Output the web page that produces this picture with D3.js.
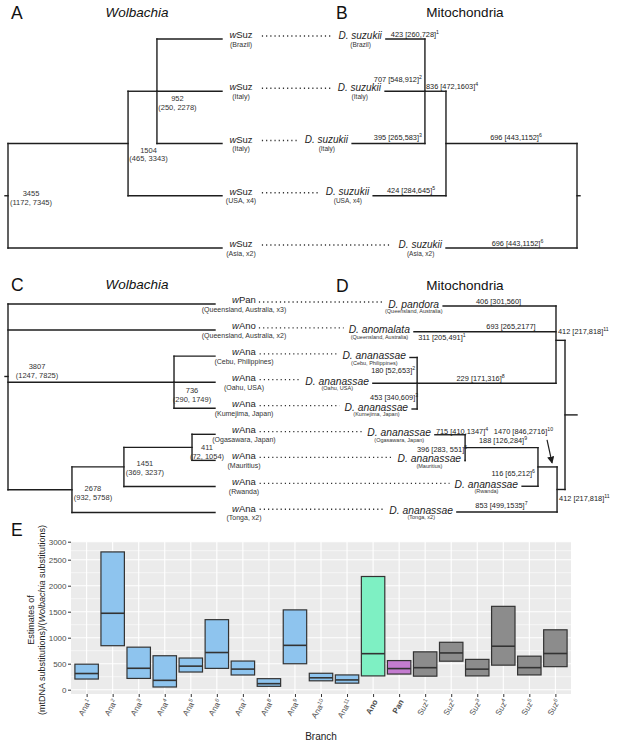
<!DOCTYPE html>
<html><head><meta charset="utf-8">
<script src="https://cdn.jsdelivr.net/npm/d3@7"></script>
<style>
body{margin:0;background:#fff;}
svg{display:block;font-family:"Liberation Sans",Arial,Helvetica,sans-serif;}
</style></head><body>
<svg id="fig" width="619" height="745"></svg>
<script>
// ======================= DATA =======================
// Panels A/B : D. suzukii
const suzWolNames = ["Suz","Suz","Suz","Suz","Suz"];
const suzLocations = ["(Brazil)","(Italy)","(Italy)","(USA, x4)","(Asia, x2)"];
const suzMitoNames = ["D. suzukii","D. suzukii","D. suzukii","D. suzukii","D. suzukii"];

// Wolbachia tree A (depth = relative node depth, 0 root .. 100 tips)
const treeA = {id:"rA", depth:0, est:"3455", ci:"(1172, 7345)", children:[
  {id:"a1504", depth:56.1, est:"1504", ci:"(465, 3343)", children:[
    {id:"a952", depth:69.6, est:"952", ci:"(250, 2278)", children:[
      {id:"a0", leaf:0, depth:100},{id:"a1", leaf:1, depth:100},{id:"a2", leaf:2, depth:100}]},
    {id:"a3", leaf:3, depth:100}]},
  {id:"a4", leaf:4, depth:100}]};

// Mitochondrial tree B (depth measured from root)
const treeB = {id:"rB", depth:0, children:[
  {id:"b446", depth:47.3, est:"696 [443,1152]", sup:"6", children:[
    {id:"b425", depth:54.9, est:"836 [472,1603]", sup:"4", children:[
      {id:"b0", leaf:0, depth:69.0, est:"423 [260,728]", sup:"1"},
      {id:"b1", leaf:1, depth:69.3, est:"707 [548,912]", sup:"2"},
      {id:"b2", leaf:2, depth:81.2, est:"395 [265,583]", sup:"3"}]},
    {id:"b3", leaf:3, depth:73.6, est:"424 [284,645]", sup:"5"}]},
  {id:"b4", leaf:4, depth:47.3, est:"696 [443,1152]", sup:"6"}]};

// Panels C/D : D. ananassae group
const anaWolNames = ["Pan","Ano","Ana","Ana","Ana","Ana","Ana","Ana","Ana"];
const anaWolLocations = ["(Queensland, Australia, x3)","(Queensland, Australia, x2)","(Cebu, Philippines)","(Oahu, USA)","(Kumejima, Japan)","(Ogasawara, Japan)","(Mauritius)","(Rwanda)","(Tonga, x2)"];
const anaMitoNames = ["D. pandora","D. anomalata","D. ananassae","D. ananassae","D. ananassae","D. ananassae","D. ananassae","D. ananassae","D. ananassae"];
const anaMitoLocations = ["(Queensland, Australia)","(Queensland, Australia)","(Cebu, Philippines)","(Oahu, USA)","(Kumejima, Japan)","(Ogasawara, Japan)","(Mauritius)","(Rwanda)","(Tonga, x2)"];

const treeC = {id:"rC", depth:0, est:"3807", ci:"(1247, 7825)", children:[
  {id:"c0", leaf:0, depth:100},
  {id:"c1", leaf:1, depth:100},
  {id:"c736", depth:80.2, est:"736", ci:"(290, 1749)", children:[
    {id:"c2", leaf:2, depth:100},{id:"c3", leaf:3, depth:100},{id:"c4", leaf:4, depth:100}]},
  {id:"c2678", depth:30.9, est:"2678", ci:"(932, 5758)", children:[
    {id:"c1451", depth:56.0, est:"1451", ci:"(369, 3237)", children:[
      {id:"c411", depth:88.9, est:"411", ci:"(72, 1054)", children:[
        {id:"c5", leaf:5, depth:100},{id:"c6", leaf:6, depth:100}]},
      {id:"c7", leaf:7, depth:100}]},
    {id:"c8", leaf:8, depth:100}]}]};

const treeD = {id:"rD", depth:0, children:[
  {id:"dUp", depth:3.4, est:"412 [217,818]", sup:"11", children:[
    {id:"d0", leaf:0, depth:46.0, est:"406 [301,560]", sup:""},
    {id:"d1", leaf:1, depth:57.0, est:"693 [265,2177]", sup:""},
    {id:"dAna", depth:55.8, est:"229 [171,316]", sup:"8", children:[
      {id:"d2", leaf:2, depth:58.5, est:"311 [205,491]", sup:"1"},
      {id:"d3", leaf:3, depth:72.5, est:"180 [52,653]", sup:"2"},
      {id:"d4", leaf:4, depth:57.7, est:"453 [340,609]", sup:"3"}]}]},
  {id:"dLow", depth:3.0, est:"412 [217,818]", sup:"11", children:[
    {id:"d538", depth:10.2, est:"1470 [846,2716]", sup:"10", children:[
      {id:"d465", depth:37.7, est:"188 [126,284]", sup:"9", children:[
        {id:"d5", leaf:5, depth:49.1, est:"715 [410,1347]", sup:"4"},
        {id:"d6", leaf:6, depth:37.7, est:"396 [283, 551]", sup:"5"}]},
      {id:"d7", leaf:7, depth:16.2, est:"116 [65,212]", sup:"6"}]},
    {id:"d8", leaf:8, depth:40.8, est:"853 [499,1535]", sup:"7"}]}]};

// Panel E : estimates of (mtDNA substitutions)/(Wolbachia substitutions)
const branchIds  = ["Ana1","Ana2","Ana3","Ana4","Ana5","Ana6","Ana7","Ana8","Ana9","Ana10","Ana11","Ano","Pan","Suz1","Suz2","Suz3","Suz4","Suz5","Suz6"];
const branchBase = ["Ana","Ana","Ana","Ana","Ana","Ana","Ana","Ana","Ana","Ana","Ana","Ano","Pan","Suz","Suz","Suz","Suz","Suz","Suz"];
const branchSup  = ["1","2","3","4","5","6","7","8","9","10","11","","","1","2","3","4","5","6"];
const branchGroup= ["Ana","Ana","Ana","Ana","Ana","Ana","Ana","Ana","Ana","Ana","Ana","Ano","Pan","Suz","Suz","Suz","Suz","Suz","Suz"];
const estLow  = [205, 846, 217,  52, 340,  410, 283,  65,  499, 171, 126,  265, 301, 260, 548, 265,  472, 284,  443];
const estMid  = [311,1470, 412, 180, 453,  715, 396, 116,  853, 229, 188,  693, 406, 423, 707, 395,  836, 424,  696];
const estHigh = [491,2716, 818, 653, 609, 1347, 551, 212, 1535, 316, 284, 2177, 560, 728, 912, 583, 1603, 645, 1152];
const yTicks = [0,500,1000,1500,2000,2500,3000];
const yMinor = [250,750,1250,1750,2250,2750];

// ======================= LAYOUT / STYLE =======================
const INK = "#1e1e1e";
const groupColor = {Ana:"#8EC4EE", Ano:"#7EF0C3", Pan:"#C47CD0", Suz:"#8C8C8C"};

const wolNodeLabelPos = {
  rA:{dx:23, dy:[0.5,9.5]}, a1504:{dx:20.5, dy:[9.5,17.5]}, a952:{dx:20.5, dy:[10,19]},
  rC:{dx:29, dy:[-7.7,1.3]}, c736:{dx:18, dy:[10.6,19.6]}, c411:{dx:15, dy:[2.3,11.3]},
  c1451:{dx:21, dy:[-1.2,7.8]}, c2678:{dx:21, dy:[1,10]}
};
const mitoLabelPos = {
  b0:{ref:"from",anchor:"start",dx:5,dy:-2}, b1:{ref:"to",anchor:"end",dx:-3,dy:-9},
  b2:{ref:"to",anchor:"end",dx:-3,dy:-3.5}, b3:{ref:"mid",anchor:"middle",dx:1.5,dy:-2.5},
  b4:{ref:"mid",anchor:"middle",dx:6,dy:-2.5}, b425:{ref:"from",anchor:"start",dx:1,dy:-2.5},
  b446:{ref:"mid",anchor:"middle",dx:4.5,dy:-3.5},
  d0:{ref:"mid",anchor:"middle",dx:-1,dy:-2.5}, d1:{ref:"mid",anchor:"middle",dx:26,dy:-2.5},
  dUp:{ref:"from",anchor:"start",dx:2,dy:-6}, d2:{ref:"to",anchor:"start",dx:1,dy:-17.5},
  d3:{ref:"to",anchor:"end",dx:-2,dy:-10.5}, dAna:{ref:"mid",anchor:"middle",dx:-6,dy:-2.5},
  d4:{ref:"to",anchor:"end",dx:1,dy:-9}, d5:{ref:"from",anchor:"start",dx:1,dy:-1},
  d538:{ref:"to",anchor:"end",dx:-4,dy:-33}, d465:{ref:"mid",anchor:"middle",dx:1.5,dy:-4.5},
  d6:{ref:"to",anchor:"end",dx:2,dy:-9}, d7:{ref:"to",anchor:"end",dx:-3,dy:-10},
  d8:{ref:"mid",anchor:"middle",dx:-5.5,dy:-4}, dLow:{ref:"from",anchor:"start",dx:2,dy:11.5}
};
const mitoText = {b:{main:10, sub:6.5, mainDy:-0.5, subDy:7.5}, d:{main:10.3, sub:5.5, mainDy:1.5, subDy:7}};

const svg = d3.select("#fig");
svg.append("rect").attr("width",619).attr("height",745).attr("fill","#fff");
svg.append("defs").append("marker").attr("id","arr").attr("viewBox","0 0 8 8")
  .attr("refX",7).attr("refY",4).attr("markerWidth",6).attr("markerHeight",6).attr("orient","auto")
  .append("path").attr("d","M0,0L8,4L0,8Z").attr("fill",INK);

function seg(g,x1,y1,x2,y2){
  g.append("line").attr("x1",x1).attr("y1",y1).attr("x2",x2).attr("y2",y2)
   .attr("stroke",INK).attr("stroke-width",1.4).attr("stroke-linecap","square");
}

function drawTree(data, xs, ys, stub){
  const g = svg.append("g");
  const root = d3.hierarchy(data);
  root.eachAfter(n => {
    n.px = xs(n.data.depth);
    n.py = n.children ? d3.mean(n.children, c => c.py) : ys(n.data.leaf);
  });
  root.descendants().forEach(n => {
    if (n.parent) seg(g, n.parent.px, n.py, n.px, n.py);
    if (n.children) seg(g, n.px, d3.min(n.children,c=>c.py), n.px, d3.max(n.children,c=>c.py));
  });
  seg(g, root.px, root.py, root.px + stub, root.py);
  return {g, root, leaves: root.leaves().sort((a,b)=>a.data.leaf-b.data.leaf)};
}

function panelTitle(letter, lx, title, tx, y, italic){
  svg.append("text").attr("x",lx).attr("y",y+2).attr("font-size",17.5).attr("fill","#111").text(letter);
  svg.append("text").attr("x",tx).attr("y",y).attr("text-anchor","middle").attr("font-size",13.5)
    .attr("font-style",italic?"italic":"normal").attr("fill","#111").text(title);
}

function wolLabels(t, names, locs, off){
  const boxes = [];
  t.leaves.forEach((n,i) => {
    const cx = n.px + off;
    const tx = t.g.append("text").attr("x",cx).attr("y",n.py-1).attr("text-anchor","middle")
      .attr("font-size",9.5).attr("fill",INK);
    tx.append("tspan").attr("font-style","italic").text("w");
    tx.append("tspan").text(names[i]);
    t.g.append("text").attr("x",cx).attr("y",n.py+7.5).attr("text-anchor","middle")
      .attr("font-size",7).attr("fill","#333").text(locs[i]);
    boxes.push(tx.node().getBBox());
  });
  t.root.descendants().filter(n=>n.children).forEach(n => {
    const p = wolNodeLabelPos[n.data.id];
    [n.data.est, n.data.ci].forEach((s,k) => {
      t.g.append("text").attr("x",n.px+p.dx).attr("y",n.py+p.dy[k]).attr("text-anchor","middle")
        .attr("font-size",7.5).attr("fill","#333").text(s);
    });
  });
  return boxes;
}

function mitoLabels(t, names, locs, st){
  const boxes = [];
  t.leaves.forEach((n,i) => {
    const tx = t.g.append("text").attr("x",n.px-4).attr("y",n.py+st.mainDy).attr("text-anchor","end")
      .attr("font-size",st.main).attr("font-style","italic").attr("fill",INK).text(names[i]);
    const bb = tx.node().getBBox();
    boxes.push(bb);
    t.g.append("text").attr("x",bb.x+bb.width/2).attr("y",n.py+st.subDy).attr("text-anchor","middle")
      .attr("font-size",st.sub).attr("fill","#333").text(locs[i]);
  });
  t.root.descendants().filter(n=>n.parent).forEach(n => {
    const p = mitoLabelPos[n.data.id];
    const from = n.px, to = n.parent.px, mid = (from+to)/2;
    const x = ({from, to, mid})[p.ref] + p.dx;
    const tx = t.g.append("text").attr("x",x).attr("y",n.py+p.dy).attr("text-anchor",p.anchor)
      .attr("font-size",7.4).attr("fill","#222");
    tx.append("tspan").text(n.data.est);
    if (n.data.sup) tx.append("tspan").attr("font-size",5.2).attr("dy",-3).text(n.data.sup);
  });
  return boxes;
}

function dots(wb, mb, wl, ml, g1, g2){
  wb.forEach((b,i) => {
    const y = (wl[i].py + ml[i].py)/2 - 3;
    svg.append("line").attr("x1",b.x+b.width+g1).attr("x2",mb[i].x-g2).attr("y1",y).attr("y2",y)
      .attr("stroke","#333").attr("stroke-width",1.3).attr("stroke-dasharray","1.2,3");
  });
}

// ---------- Panels A & B ----------
panelTitle("A", 11, "Wolbachia", 137, 17, true);
panelTitle("B", 336, "Mitochondria", 465, 17, false);
const xA = d3.scaleLinear().domain([0,100]).range([8,222]);
const yAB = d3.scaleLinear().domain([0,4]).range([39,248]);
const tA = drawTree(treeA, xA, yAB, -3);
const wbA = wolLabels(tA, suzWolNames, suzLocations, 19);
const xB = d3.scaleLinear().domain([0,100]).range([577,300]);
const tB = drawTree(treeB, xB, yAB, 3);
const mbB = mitoLabels(tB, suzMitoNames, suzLocations, mitoText.b);
dots(wbA, mbB, tA.leaves, tB.leaves, 9, 7);

// ---------- Panels C & D ----------
panelTitle("C", 11, "Wolbachia", 137, 289, true);
panelTitle("D", 336, "Mitochondria", 465, 289.5, false);
const xC = d3.scaleLinear().domain([0,100]).range([8,215]);
const yC = d3.scaleLinear().domain([0,8]).range([304,512.5]);
const tC = drawTree(treeC, xC, yC, -3);
const wbC = wolLabels(tC, anaWolNames, anaWolLocations, 29);
const xD = d3.scaleLinear().domain([0,100]).range([565,300]);
const yD = d3.scaleLinear().domain([0,8]).range([306,512]);
const tD = drawTree(treeD, xD, yD, 12);
const mbD = mitoLabels(tD, anaMitoNames, anaMitoLocations, mitoText.d);
dots(wbC, mbD, tC.leaves, tD.leaves, 3, 5);
// arrow pointing at branch 10
{
  const n = tD.root.descendants().find(d=>d.data.id==="d538");
  const to = n.parent.px;
  svg.append("line").attr("x1",to-10).attr("y1",n.py-27).attr("x2",to-5).attr("y2",n.py-4)
    .attr("stroke",INK).attr("stroke-width",1.2).attr("marker-end","url(#arr)");
}

// ---------- Panel E ----------
svg.append("text").attr("x",11).attr("y",536).attr("font-size",17.5).attr("fill","#111").text("E");
const xE = d3.scalePoint().domain(branchIds).range([71,571]).padding(0.6);
const yE = d3.scaleLinear().domain([0,2500,3000]).range([689.7,559.7,541.7]);
const yFloor = -83;
const pTop = yE(3000), pBot = yE(yFloor), pL = 71, pR = 571;
const bw = xE.step()*0.9;
const gE = svg.append("g");
gE.append("rect").attr("x",pL).attr("y",pTop).attr("width",pR-pL).attr("height",pBot-pTop).attr("fill","#EBEBEB");
gE.selectAll(".ymin").data(yMinor).join("line").attr("x1",pL).attr("x2",pR)
  .attr("y1",d=>yE(d)).attr("y2",d=>yE(d)).attr("stroke","#fff").attr("stroke-width",0.55);
gE.selectAll(".ymaj").data(yTicks).join("line").attr("x1",pL).attr("x2",pR)
  .attr("y1",d=>yE(d)).attr("y2",d=>yE(d)).attr("stroke","#fff").attr("stroke-width",1.1);
gE.selectAll(".xg").data(branchIds).join("line").attr("y1",pTop).attr("y2",pBot)
  .attr("x1",d=>xE(d)).attr("x2",d=>xE(d)).attr("stroke","#fff").attr("stroke-width",1.1);
gE.selectAll(".bar").data(branchIds).join("rect")
  .attr("x",d=>xE(d)-bw/2).attr("width",bw)
  .attr("y",(d,i)=>yE(estHigh[i])).attr("height",(d,i)=>yE(estLow[i])-yE(estHigh[i]))
  .attr("fill",(d,i)=>groupColor[branchGroup[i]]).attr("stroke","#333").attr("stroke-width",1.2);
gE.selectAll(".mid").data(branchIds).join("line")
  .attr("x1",d=>xE(d)-bw/2).attr("x2",d=>xE(d)+bw/2)
  .attr("y1",(d,i)=>yE(estMid[i])).attr("y2",(d,i)=>yE(estMid[i]))
  .attr("stroke","#333").attr("stroke-width",1.6);

const ya = gE.append("g").attr("transform",`translate(${pL},0)`)
  .call(d3.axisLeft(yE).tickValues(yTicks).tickFormat(d3.format("d")).tickSize(3).tickPadding(1.5));
ya.select(".domain").remove();
ya.selectAll("line").attr("stroke","#333");
ya.selectAll("text").attr("font-size",8).attr("fill","#4D4D4D").attr("font-family",null);

const xa = gE.append("g").attr("transform",`translate(0,${pBot})`)
  .call(d3.axisBottom(xE).tickSize(3));
xa.select(".domain").remove();
xa.selectAll("line").attr("stroke","#333");
xa.selectAll("text").remove();
branchIds.forEach((id,i) => {
  const t = gE.append("text").attr("transform",`translate(${xE(id)+2.5},${pBot+6}) rotate(-60)`)
    .attr("text-anchor","end").attr("dy","0.35em").attr("font-size",8).attr("fill","#4D4D4D")
    .attr("font-weight", branchSup[i] ? "normal" : "bold");
  t.append("tspan").text(branchBase[i]);
  if (branchSup[i]) t.append("tspan").attr("font-size",5.5).attr("dy",-3).text(branchSup[i]);
});
gE.append("text").attr("x",(pL+pR)/2).attr("y",740).attr("text-anchor","middle")
  .attr("font-size",10).attr("fill","#222").text("Branch");
const yt = gE.append("text").attr("transform",`translate(0,620) rotate(-90)`)
  .attr("text-anchor","middle").attr("font-size",9).attr("fill","#222");
yt.append("tspan").attr("x",0).attr("y",34).text("Estimates of");
const l2 = yt.append("tspan").attr("x",0).attr("y",44.5);
l2.append("tspan").text("(mtDNA substitutions)/(");
l2.append("tspan").attr("font-style","italic").text("Wolbachia");
l2.append("tspan").text(" substitutions)");
</script>
</body></html>
